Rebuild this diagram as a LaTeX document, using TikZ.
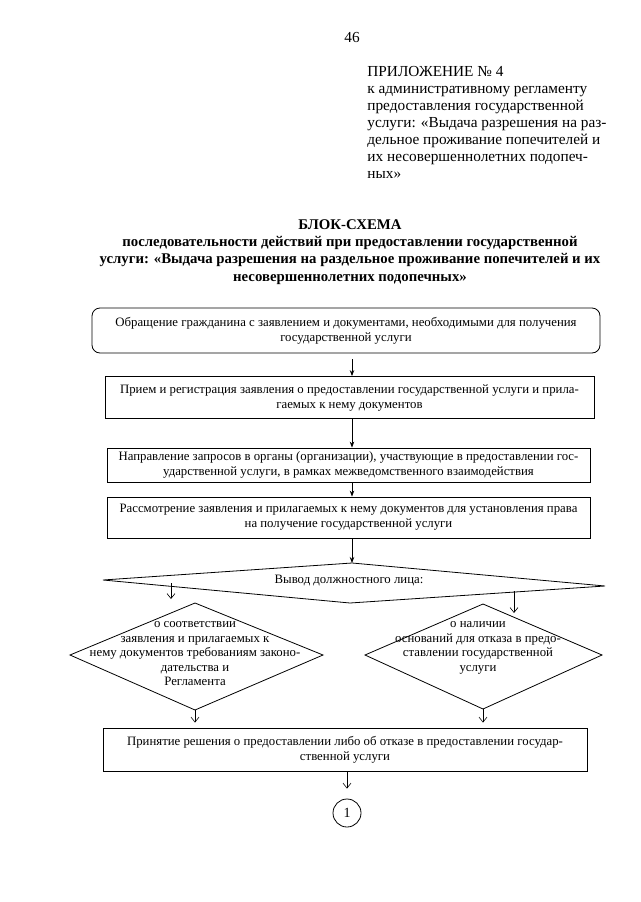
\documentclass[tikz,border=0pt]{standalone}
\usepackage{fontspec}
\setmainfont{Liberation Serif}
\usetikzlibrary{arrows.meta,calc}
\begin{document}
\begin{tikzpicture}[x=1pt,y=-1pt,
  line width=0.8pt,
  bodytext/.style={font=\fontsize{12.8}{15}\selectfont, align=center, inner sep=0pt},
  dtext/.style={font=\fontsize{12.8}{14.5}\selectfont, align=center, inner sep=0pt},
  headtext/.style={font=\fontsize{15.3}{17}\selectfont, align=left, inner sep=0pt},
  titletext/.style={font=\fontsize{14.8}{17.3}\selectfont\bfseries, align=center, inner sep=0pt},
  procbox/.style={draw, rectangle, bodytext},
  farrow/.style={-{Stealth[length=6pt,width=4.5pt]}},
  oarrow/.style={-{Straight Barb[length=5pt,width=8pt]}, line width=0.6pt}
]
\useasboundingbox (0,0) rectangle (640,902);

% page number and header
\node[headtext] (pnum) at (352,38) {46};
\node[headtext, anchor=north west] (hdr) at (367,66) {ПРИЛОЖЕНИЕ № 4\\
к административному регламенту\\
предоставления государственной\\
услуги: «Выдача разрешения на раз-\\
дельное проживание попечителей и\\
их несовершеннолетних подопеч-\\
ных»};

% title
\node[titletext] (title) at (350,252) {БЛОК-СХЕМА\\
последовательности действий при предоставлении государственной\\
услуги: «Выдача разрешения на раздельное проживание попечителей и их\\
несовершеннолетних подопечных»};

% process boxes
\node[procbox, rounded corners=8pt, minimum width=508pt, minimum height=45pt] (b1) at (346,330.5)
  {Обращение гражданина с заявлением и документами, необходимыми для получения\\государственной услуги};
\node[procbox, minimum width=489pt, minimum height=42pt] (b2) at (349.5,397.5)
  {Прием и регистрация заявления о предоставлении государственной услуги и прила-\\гаемых к нему документов};
\node[procbox, minimum width=483pt, minimum height=34pt] (b3) at (348.5,465)
  {Направление запросов в органы (организации), участвующие в предоставлении гос-\\ударственной услуги, в рамках межведомственного взаимодействия};
\node[procbox, minimum width=483pt, minimum height=41pt] (b4) at (348.5,517.5)
  {Рассмотрение заявления и прилагаемых к нему документов для установления права\\на получение государственной услуги};
\node[procbox, minimum width=484pt, minimum height=43pt] (b5) at (345,749.5)
  {Принятие решения о предоставлении либо об отказе в предоставлении государ-\\ственной услуги};
\node[draw, circle, minimum size=28pt, inner sep=0pt, font=\fontsize{14}{16}\selectfont] (c1) at (347,813) {1};

% decision diamonds
\coordinate (dL) at (103,580);
\coordinate (dT) at (352,563);
\coordinate (dR) at (605,586);
\coordinate (dB) at (350,603);
\draw (dL) -- (dT) -- (dR) -- (dB) -- cycle;
\node[bodytext] (dq) at (349,581) {Вывод должностного лица:};

\coordinate (lT) at (195,603);
\coordinate (lL) at (70,655);
\coordinate (lR) at (323,655);
\coordinate (lB) at (195,710);
\draw (lT) -- (lR) -- (lB) -- (lL) -- cycle;
\node[dtext] (lq) at (195,654) {о соответствии\\
заявления и прилагаемых к\\
нему документов требованиям законо-\\
дательства и\\
Регламента};

\coordinate (rT) at (483,604);
\coordinate (rL) at (365,655);
\coordinate (rR) at (602,655);
\coordinate (rB) at (483,709);
\draw (rT) -- (rR) -- (rB) -- (rL) -- cycle;
\node[dtext] (rq) at (478,648) {о наличии\\
оснований для отказа в предо-\\
ставлении государственной\\
услуги};

% connectors
\coordinate (ax) at (352,0);
\draw[farrow, shorten <=6pt] (b1.south -| ax) -- (b2.north -| ax);
\draw[farrow] (b2.south -| ax) -- (b3.north -| ax);
\draw[farrow] (b3.south -| ax) -- (b4.north -| ax);
\draw[farrow] (b4.south -| ax) -- (dT);

\coordinate (la1) at (171,583);
\coordinate (la2) at (171,599);
\draw[oarrow] (la1) -- (la2);
\coordinate (ra1) at (514,591);
\coordinate (ra2) at (514,613);
\draw[oarrow] (ra1) -- (ra2);

\draw[oarrow, shorten >=5pt] (lB) -- (lB |- b5.north);
\draw[oarrow, shorten >=5pt] (rB) -- (rB |- b5.north);
\draw[oarrow, shorten >=10pt] (b5.south -| c1) -- (c1.north);
\end{tikzpicture}
\end{document}
